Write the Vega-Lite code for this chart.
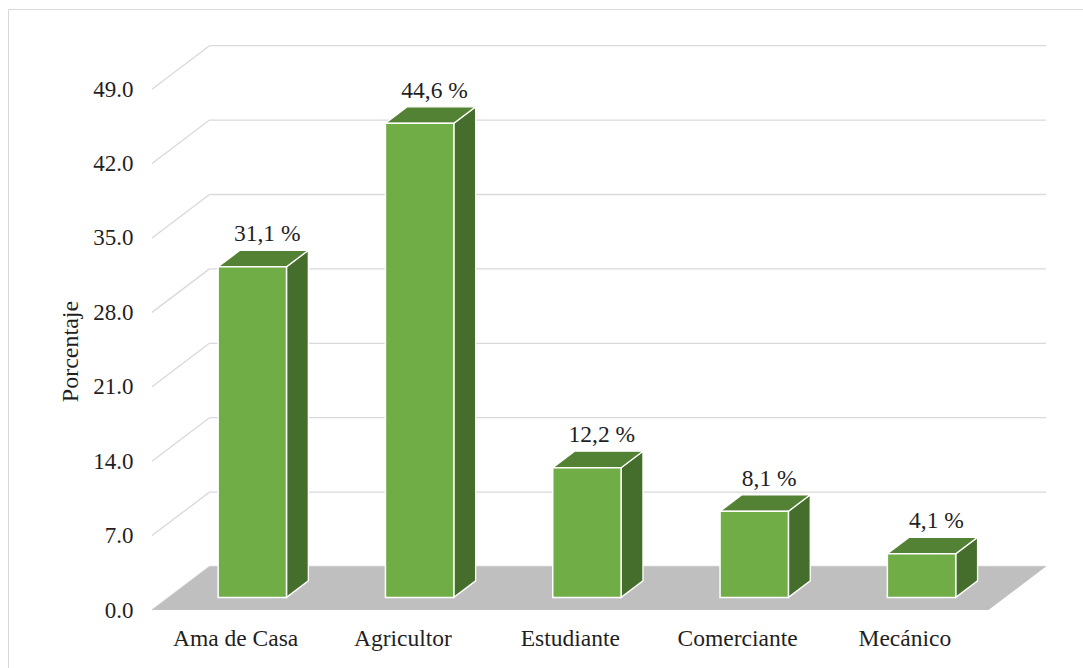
{
  "$schema": "https://vega.github.io/schema/vega-lite/v6.json",
  "autosize": "none",
  "padding": {"left": 8, "top": 9, "right": 0, "bottom": 0},
  "width": 1075,
  "height": 659,
  "background": "white",
  "config": {
    "view": {"stroke": "#d9d9d9", "strokeWidth": 1},
    "font": "Liberation Serif"
  },
  "resolve": {"axis": {"y": "independent"}},
  "datasets": {
    "ocupacion": [
      {"ocupacion": "Ama de Casa", "porcentaje": 31.1},
      {"ocupacion": "Agricultor", "porcentaje": 44.6},
      {"ocupacion": "Estudiante", "porcentaje": 12.2},
      {"ocupacion": "Comerciante", "porcentaje": 8.1},
      {"ocupacion": "Mecánico", "porcentaje": 4.1}
    ],
    "niveles": [
      {"nivel": 0}, {"nivel": 7}, {"nivel": 14}, {"nivel": 21},
      {"nivel": 28}, {"nivel": 35}, {"nivel": 42}, {"nivel": 49}
    ]
  },
  "layer": [
    {
      "data": {"name": "niveles"},
      "transform": [{"calculate": "datum.nivel + 4.09", "as": "fondo"}],
      "mark": {"type": "rule", "color": "#d9d9d9", "strokeWidth": 1.3},
      "encoding": {
        "x": {"datum": 0, "type": "quantitative", "axis": null,
              "scale": {"domain": [0, 5.3435], "range": [144, 1038], "nice": false, "zero": false}},
        "x2": {"datum": 0.3435},
        "y": {"field": "nivel", "type": "quantitative",
              "scale": {"domain": [0, 53.2], "range": [601, 35.5], "nice": false, "zero": false},
              "axis": {
                "values": [0, 7, 14, 21, 28, 35, 42, 49],
                "format": ".1f",
                "title": "Porcentaje",
                "grid": false, "domain": false, "ticks": false,
                "offset": -144,
                "labelPadding": 19,
                "labelFont": "Liberation Serif", "labelFontSize": 23, "labelColor": "#1f1f1f",
                "titleFont": "Liberation Serif", "titleFontSize": 24, "titleFontWeight": "normal",
                "titleColor": "#1f1f1f",
                "titleX": -82, "titleY": 342, "titleAngle": -90,
                "titleAlign": "center", "titleBaseline": "middle"
              }},
        "y2": {"field": "fondo"}
      }
    },
    {
      "data": {"name": "niveles"},
      "transform": [{"calculate": "datum.nivel + 4.09", "as": "fondo"}],
      "mark": {"type": "rule", "color": "#d9d9d9", "strokeWidth": 1.3},
      "encoding": {
        "x": {"datum": 0.3435, "type": "quantitative", "axis": null,
              "scale": {"domain": [0, 5.3435], "range": [144, 1038], "nice": false, "zero": false}},
        "x2": {"datum": 5.3435},
        "y": {"field": "fondo", "type": "quantitative", "axis": null,
              "scale": {"domain": [0, 53.2], "range": [601, 35.5], "nice": false, "zero": false}}
      }
    },
    {
      "data": {"name": "niveles"},
      "transform": [
        {"filter": "datum.nivel === 0"},
        {"calculate": "0", "as": "p0"},
        {"calculate": "1", "as": "p1"},
        {"fold": ["p0", "p1"], "as": ["borde", "d"]},
        {"calculate": "datum.d * 4.09", "as": "yy"},
        {"calculate": "datum.d * 0.3435", "as": "xa"},
        {"calculate": "5 + datum.d * 0.3435", "as": "xb"}
      ],
      "mark": {"type": "area", "orient": "horizontal", "color": "#bfbfbf"},
      "encoding": {
        "y": {"field": "yy", "type": "quantitative", "axis": null,
              "scale": {"domain": [0, 53.2], "range": [601, 35.5], "nice": false, "zero": false}},
        "x": {"field": "xa", "type": "quantitative", "axis": null,
              "scale": {"domain": [0, 5.3435], "range": [144, 1038], "nice": false, "zero": false}},
        "x2": {"field": "xb"}
      }
    },
    {
      "data": {"name": "ocupacion"},
      "transform": [
        {"window": [{"op": "row_number", "as": "idx"}]},
        {"calculate": "datum.idx - 0.5", "as": "c"},
        {"calculate": "0.29", "as": "d0"},
        {"calculate": "0.67", "as": "d1"},
        {"fold": ["d0", "d1"], "as": ["cara", "d"]},
        {"calculate": "datum.c + 0.2043 + datum.d * 0.3435", "as": "xs"},
        {"calculate": "datum.d * 4.09", "as": "ys"},
        {"calculate": "datum.porcentaje + datum.d * 4.09", "as": "ys2"}
      ],
      "mark": {"type": "area", "orient": "vertical", "fill": "#456e2c", "stroke": "white", "strokeWidth": 1.3},
      "encoding": {
        "x": {"field": "xs", "type": "quantitative", "axis": null,
              "scale": {"domain": [0, 5.3435], "range": [144, 1038], "nice": false, "zero": false}},
        "y": {"field": "ys", "type": "quantitative", "axis": null,
              "scale": {"domain": [0, 53.2], "range": [601, 35.5], "nice": false, "zero": false}},
        "y2": {"field": "ys2"},
        "detail": {"field": "ocupacion"}
      }
    },
    {
      "data": {"name": "ocupacion"},
      "transform": [
        {"window": [{"op": "row_number", "as": "idx"}]},
        {"calculate": "datum.idx - 0.5", "as": "c"},
        {"calculate": "0.29", "as": "d0"},
        {"calculate": "0.67", "as": "d1"},
        {"fold": ["d0", "d1"], "as": ["cara", "d"]},
        {"calculate": "datum.porcentaje + datum.d * 4.09", "as": "yt"},
        {"calculate": "datum.c - 0.2043 + datum.d * 0.3435", "as": "xt1"},
        {"calculate": "datum.c + 0.2043 + datum.d * 0.3435", "as": "xt2"}
      ],
      "mark": {"type": "area", "orient": "horizontal", "fill": "#548235", "stroke": "white", "strokeWidth": 1.3},
      "encoding": {
        "y": {"field": "yt", "type": "quantitative", "axis": null,
              "scale": {"domain": [0, 53.2], "range": [601, 35.5], "nice": false, "zero": false}},
        "x": {"field": "xt1", "type": "quantitative", "axis": null,
              "scale": {"domain": [0, 5.3435], "range": [144, 1038], "nice": false, "zero": false}},
        "x2": {"field": "xt2"},
        "detail": {"field": "ocupacion"}
      }
    },
    {
      "data": {"name": "ocupacion"},
      "transform": [
        {"window": [{"op": "row_number", "as": "idx"}]},
        {"calculate": "datum.idx - 0.5", "as": "c"},
        {"calculate": "datum.c - 0.2043 + 0.29 * 0.3435", "as": "xf1"},
        {"calculate": "datum.c + 0.2043 + 0.29 * 0.3435", "as": "xf2"},
        {"calculate": "0.29 * 4.09", "as": "yf1"},
        {"calculate": "datum.porcentaje + 0.29 * 4.09", "as": "yf2"}
      ],
      "mark": {"type": "rect", "fill": "#70ad47", "stroke": "white", "strokeWidth": 1.5},
      "encoding": {
        "x": {"field": "xf1", "type": "quantitative", "axis": null,
              "scale": {"domain": [0, 5.3435], "range": [144, 1038], "nice": false, "zero": false}},
        "x2": {"field": "xf2"},
        "y": {"field": "yf1", "type": "quantitative", "axis": null,
              "scale": {"domain": [0, 53.2], "range": [601, 35.5], "nice": false, "zero": false}},
        "y2": {"field": "yf2"}
      }
    },
    {
      "data": {"name": "ocupacion"},
      "transform": [
        {"window": [{"op": "row_number", "as": "idx"}]},
        {"calculate": "datum.idx - 0.5 + 0.55 * 0.3435", "as": "xl"},
        {"calculate": "datum.porcentaje + 0.67 * 4.09", "as": "yl"},
        {"calculate": "replace(format(datum.porcentaje, '.1f'), '.', ',') + ' %'", "as": "etiqueta"}
      ],
      "mark": {"type": "text", "font": "Liberation Serif", "fontSize": 23.5, "color": "#1f1f1f",
               "baseline": "alphabetic", "align": "center", "dy": -9},
      "encoding": {
        "x": {"field": "xl", "type": "quantitative", "axis": null,
              "scale": {"domain": [0, 5.3435], "range": [144, 1038], "nice": false, "zero": false}},
        "y": {"field": "yl", "type": "quantitative", "axis": null,
              "scale": {"domain": [0, 53.2], "range": [601, 35.5], "nice": false, "zero": false}},
        "text": {"field": "etiqueta"}
      }
    },
    {
      "data": {"name": "ocupacion"},
      "transform": [
        {"window": [{"op": "row_number", "as": "idx"}]},
        {"calculate": "datum.idx - 0.5", "as": "c"}
      ],
      "mark": {"type": "text", "font": "Liberation Serif", "fontSize": 23.5, "color": "#1f1f1f",
               "baseline": "alphabetic", "align": "center", "dy": 36},
      "encoding": {
        "x": {"field": "c", "type": "quantitative", "axis": null,
              "scale": {"domain": [0, 5.3435], "range": [144, 1038], "nice": false, "zero": false}},
        "y": {"datum": 0, "type": "quantitative", "axis": null,
              "scale": {"domain": [0, 53.2], "range": [601, 35.5], "nice": false, "zero": false}},
        "text": {"field": "ocupacion"}
      }
    }
  ]
}
